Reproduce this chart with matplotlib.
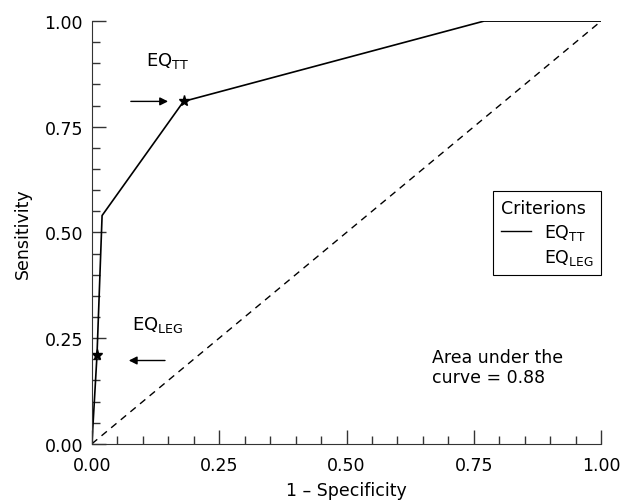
import matplotlib
matplotlib.use("Agg")
import matplotlib.pyplot as plt
from matplotlib.lines import Line2D
from matplotlib.ticker import MultipleLocator

# ROC curve points
fpr = [0.0, 0.01, 0.02, 0.18, 0.77, 1.0]
tpr = [0.0, 0.21, 0.54, 0.81, 1.0, 1.0]

# criterion cut-offs marked with a star
crit_names = [r"EQ$_{\mathrm{LEG}}$", r"EQ$_{\mathrm{TT}}$"]
crit_fpr = [0.01, 0.18]
crit_tpr = [0.21, 0.81]

auc = 0.88
tick_vals = [0.0, 0.25, 0.5, 0.75, 1.0]
tick_labels = ["0.00", "0.25", "0.50", "0.75", "1.00"]

plt.rcParams["font.family"] = ["DejaVu Sans"]
plt.rcParams["font.size"] = 12.5

fig = plt.figure(figsize=(6.21, 5.02), dpi=100)
ax = fig.add_axes([0.148, 0.114, 0.82, 0.842])

ax.plot([0, 1], [0, 1], color="black", linestyle=(0, (5, 4)), linewidth=1)
ax.plot(fpr, tpr, color="black", linewidth=1.2)
ax.plot(crit_fpr, crit_tpr, linestyle="none", marker="*", color="black", markersize=8)

# arrows and labels for the two criteria
ax.annotate("", xy=(0.155, 0.81), xytext=(0.071, 0.81),
            arrowprops=dict(arrowstyle="-|>", color="black", lw=1, mutation_scale=12))
ax.annotate("", xy=(0.067, 0.197), xytext=(0.149, 0.197),
            arrowprops=dict(arrowstyle="-|>", color="black", lw=1, mutation_scale=12))
ax.text(0.106, 0.908, crit_names[1], va="center", ha="left", fontsize=13)
ax.text(0.079, 0.284, crit_names[0], va="center", ha="left", fontsize=13)

ax.text(0.668, 0.182, "Area under the\ncurve = %.2f" % auc, va="center", ha="left",
        fontsize=12.5, linespacing=1.15)

handles = [Line2D([], [], color="black", linewidth=1),
           Line2D([], [], color="none")]
leg = ax.legend(handles, [crit_names[1], crit_names[0]], title="Criterions",
                loc="upper right", bbox_to_anchor=(1.0, 0.598), borderaxespad=0,
                fancybox=False, edgecolor="black", framealpha=1,
                handlelength=1.7, handletextpad=0.75, labelspacing=0.3,
                borderpad=0.45, fontsize=12.5)
leg._legend_box.align = "left"
leg.get_frame().set_linewidth(0.8)
leg.get_title().set_fontsize(12.5)

ax.set_xlim(0, 1)
ax.set_ylim(0, 1)
ax.set_xticks(tick_vals)
ax.set_xticklabels(tick_labels)
ax.set_yticks(tick_vals)
ax.set_yticklabels(tick_labels)
ax.xaxis.set_minor_locator(MultipleLocator(0.05))
ax.yaxis.set_minor_locator(MultipleLocator(0.05))
ax.tick_params(which="major", direction="in", length=10, width=1, color="#333333")
ax.tick_params(which="minor", direction="in", length=5.5, width=1, color="#333333")
ax.tick_params(axis="x", which="major", pad=8.5)
ax.tick_params(axis="y", which="major", pad=6.5)
ax.spines["top"].set_visible(False)
ax.spines["right"].set_visible(False)
ax.spines["left"].set_color("#333333")
ax.spines["bottom"].set_color("#333333")

ax.set_xlabel("1 – Specificity", labelpad=5)
ax.set_ylabel("Sensitivity", labelpad=9)

fig.savefig("out.png", dpi=100)
